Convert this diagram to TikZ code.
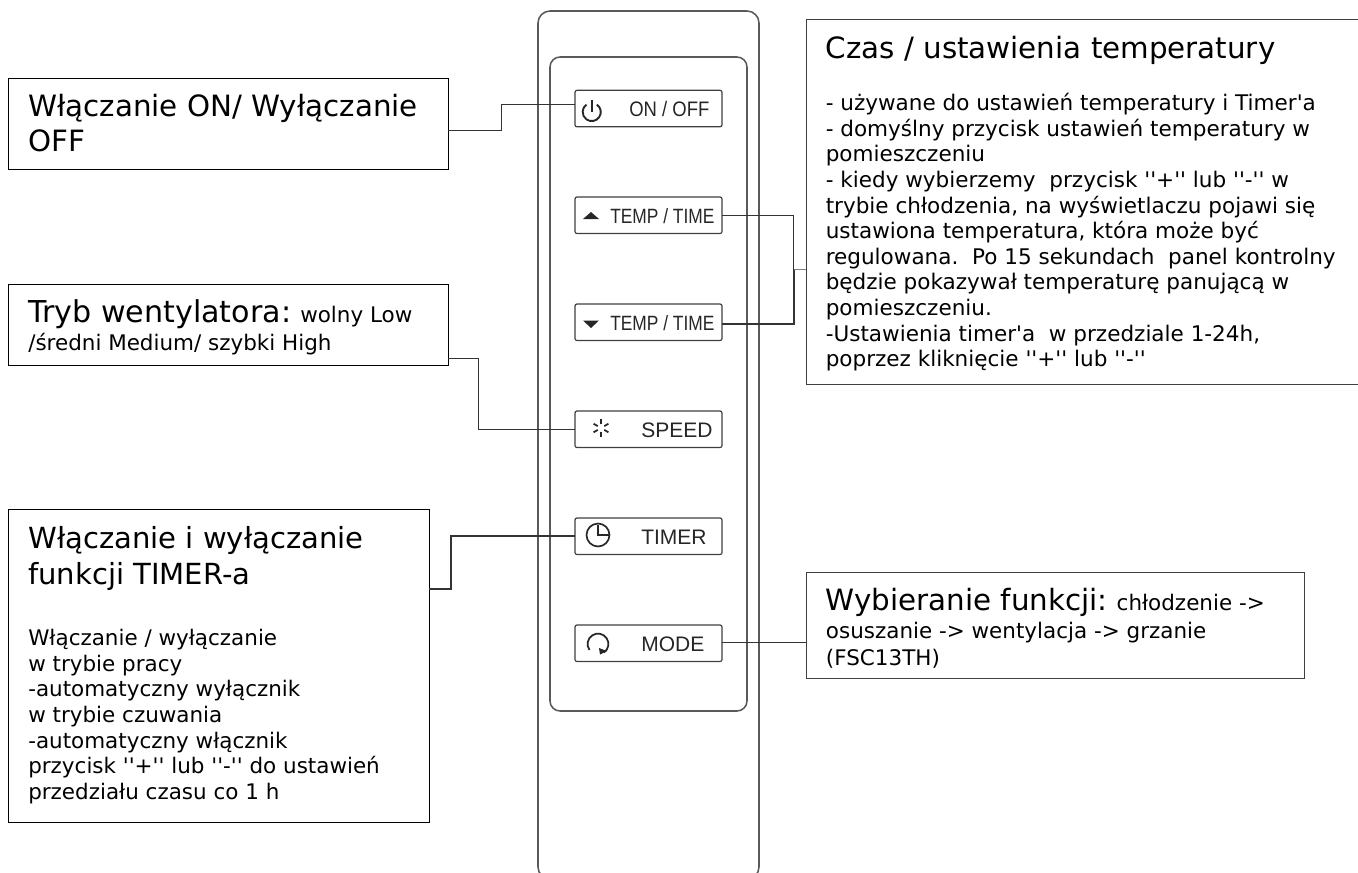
\documentclass[tikz,border=0pt]{standalone}
\usepackage{fontspec}
\newfontfamily\vf{DejaVu Sans}
\newfontfamily\af{Liberation Sans}
\newfontfamily\afn[FakeStretch=0.88]{Liberation Sans}
\newfontfamily\afc[FakeStretch=0.84]{Liberation Sans}
\newcommand\txtblock[3]{\vf\fontsize{#1}{#2}\selectfont\begin{tabular}[t]{@{}l@{}}#3\end{tabular}}
\newcommand\hd[2][22.6]{{\fontsize{#1}{#1}\selectfont #2}}
\tikzset{
  box/.style={draw=#1,line width=0.75pt,anchor=north west,inner sep=0,outer sep=0,fill=white},
  box/.default=black,
  btn/.style={draw=black!75,line width=0.9pt,rounded corners=1.5pt,anchor=north west,inner sep=0,outer sep=0,minimum width=110.25pt,minimum height=27.4pt},
  lab/.style={anchor=base west,inner sep=0,text=black!85},
  txt/.style={anchor=base west,inner sep=0,text=black},
  conn/.style={draw=black!80,line width=0.75pt},
  connt/.style={draw=black!80,line width=1.2pt},
  conng/.style={draw=black!50,line width=0.9pt},
  shell/.style={draw=black!65,line width=1.15pt},
  icon/.style={draw=black!85,line width=1.25pt},
}
\begin{document}
\begin{tikzpicture}[x=0.75pt,y=-0.75pt]
\useasboundingbox (0,0) rectangle (1358,872);
\clip (0,0) rectangle (1358,872);
\fill[white] (0,0) rectangle (1358,872);
% remote
\draw[shell,rounded corners=9pt] (538,11) rectangle (759,879);
\draw[shell,rounded corners=7.5pt] (550,57) rectangle (747,711);
% buttons
\node[btn] (bOn) at (575,90.3) {};
\node[btn] (bUp) at (575,197) {};
\node[btn] (bDn) at (575,304) {};
\node[btn] (bSp) at (575,411) {};
\node[btn] (bTi) at (575,518) {};
\node[btn] (bMo) at (575,625) {};
\node[lab,font=\afn\fontsize{15.75}{15}\selectfont] (lOn) at (629,116.7) {ON / OFF};
\node[lab,font=\afc\fontsize{15.5}{15}\selectfont] (lUp) at (610,223.3) {TEMP / TIME};
\node[lab,font=\afc\fontsize{15.5}{15}\selectfont] (lDn) at (610,330) {TEMP / TIME};
\node[lab,font=\af\fontsize{15.75}{14}\selectfont] (lSp) at (641,437.3) {SPEED};
\node[lab,font=\af\fontsize{15.75}{14}\selectfont] (lTi) at (641,544) {TIMER};
\node[lab,font=\af\fontsize{15.75}{14}\selectfont] (lMo) at (641,651) {MODE};
% icons
\draw[icon,line width=1.4pt] (591.7,112) ++(55:6.8pt) arc[start angle=55,end angle=-235,radius=6.8pt];
\draw[icon,line width=1.4pt] (591.7,99.5) -- (591.7,111.5);
\fill[black!85] (583,219) -- (599,219) -- (591,212) -- cycle;
\fill[black!85] (583,320.5) -- (599,320.5) -- (591,328) -- cycle;
\foreach \a in {30,90,150,210,270,330}{\draw[icon,line width=1.3pt] (601,428) ++(\a:2.8pt) -- ++(\a:3.6pt);}
\draw[icon] (598,535) circle[radius=8.6pt];
\draw[icon] (598,525) -- (598,535) -- (609,535);
\draw[icon,line width=1.3pt] (598,644) ++(-145:7.8pt) arc[start angle=215,end angle=-55,radius=7.8pt];
\fill[black!85] (599,648) -- (607,651) -- (600,654.5) -- cycle;
% description boxes
\node[box,minimum width=330pt,minimum height=68.25pt] (tOn) at (8,78) {};
\node[box,minimum width=330pt,minimum height=61pt] (tSp) at (8,284.3) {};
\node[box,minimum width=315.75pt,minimum height=234.75pt] (tTi) at (8,509) {};
\node[box=black!75,minimum width=417pt,minimum height=273.75pt] (tTe) at (806,19) {};
\node[box=black!75,minimum width=373.5pt,minimum height=79.5pt] (tMo) at (806,572) {};
% texts
\node[txt] (xOn) at (28,116.7) {\txtblock{22}{26.2}{Włączanie ON/ Wyłączanie\\OFF}};
\node[txt] (xSp) at (28,322.7) {\txtblock{16.1}{21.2}{\hd{Tryb wentylatora:} wolny Low\\/średni Medium/ szybki High}};
\node[txt] (xTh) at (28,548) {\txtblock{21.8}{27}{Włączanie i wyłączanie\\funkcji TIMER-a}};
\node[txt] (xTb) at (28,645.7) {\txtblock{16.1}{19.2}{Włączanie / wyłączanie\\w trybie pracy\\-automatyczny wyłącznik\\w trybie czuwania\\-automatyczny włącznik\\przycisk ''+'' lub ''-'' do ustawień\\przedziału czasu co 1 h}};
\node[txt] (xCh) at (825.5,58) {\txtblock{22}{27}{Czas / ustawienia temperatury}};
\node[txt] (xCb) at (825.5,110.7) {\txtblock{16.15}{19.2}{- używane do ustawień temperatury i Timer'a\\- domyślny przycisk ustawień temperatury w\\pomieszczeniu\\- kiedy wybierzemy\ \ przycisk ''+'' lub ''-'' w\\trybie chłodzenia, na wyświetlaczu pojawi się\\ustawiona temperatura, która może być\\regulowana.\ \ Po 15 sekundach\ \ panel kontrolny\\będzie pokazywał temperaturę panującą w\\pomieszczeniu.\\-Ustawienia timer'a\ \ w przedziale 1-24h,\\poprzez kliknięcie ''+'' lub ''-''}};
\node[txt] (xMo) at (825.7,610.7) {\txtblock{16.1}{20.6}{\hd[22]{Wybieranie funkcji:} chłodzenie ->\\osuszanie -> wentylacja -> grzanie\\(FSC13TH)}};
% connectors
\coordinate (eOn) at (501,130);
\coordinate (eSp) at (478,358.7);
\coordinate (eTi) at (451,588.7);
\coordinate (eTe) at (793.7,269.7);
\coordinate (eMo) at (806,642.3);
\draw[conn] (tOn.east |- eOn) -- (eOn) -- (eOn |- 0,104.3) -- (bOn.west |- 0,104.3);
\draw[conn] (tSp.east |- eSp) -- (eSp) |- (bSp.west);
\draw[connt] (tTi.east |- eTi) -- (eTi) |- (bTi.west);
\draw[conn] (bUp.east) -| (eTe);
\draw[connt] (bDn.east |- 0,323.7) -| (eTe);
\draw[conng] (eTe) -- (eTe -| tTe.west);
\draw[conn] (bMo.east |- eMo) -- (eMo -| tMo.west);
\end{tikzpicture}
\end{document}
